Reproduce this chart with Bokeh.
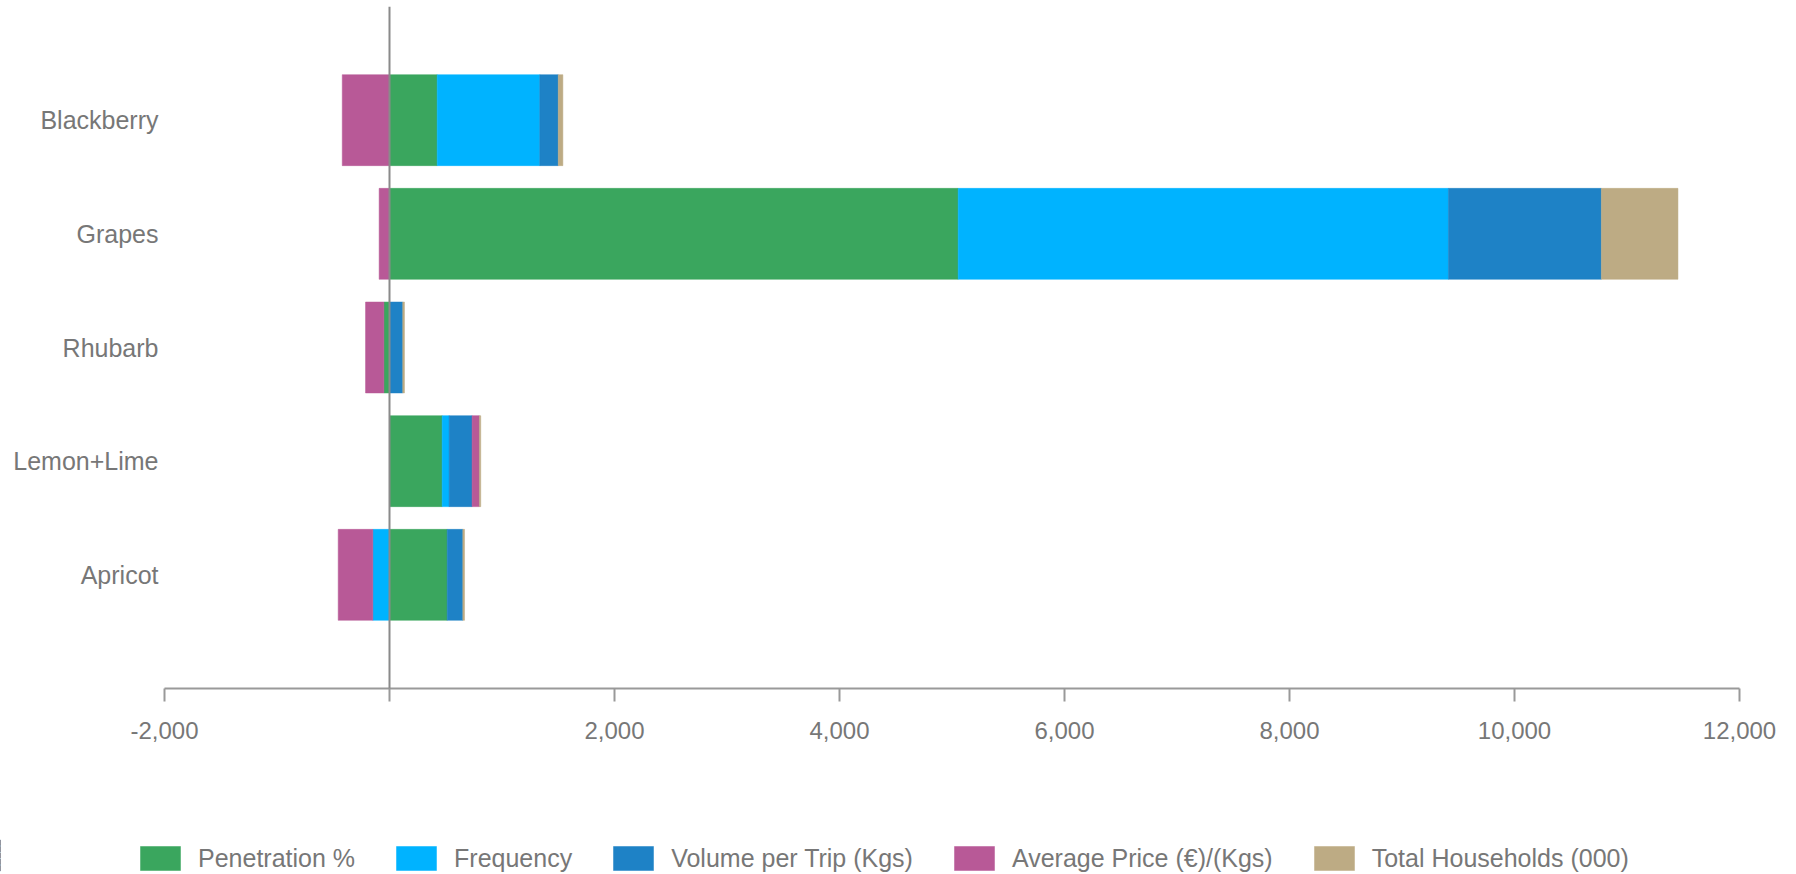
from bokeh.plotting import figure
from bokeh.models import (ColumnDataSource, Range1d, FactorRange, FixedTicker,
                          NumeralTickFormatter, Span, Legend, LegendItem)
from bokeh.embed import file_html
from bokeh.resources import INLINE

categories = ["Blackberry", "Grapes", "Rhubarb", "Lemon+Lime", "Apricot"]
penetration = [424, 5055, -50, 468, 513]
frequency = [912, 4358, 0, 62, -148]
volume_per_trip = [164, 1359, 118, 204, 139]
average_price = [-420, -92, -163, 65, -308]
total_households = [41, 681, 15, 12, 15]

series_names = ["Penetration %", "Frequency", "Volume per Trip (Kgs)",
                "Average Price (€)/(Kgs)", "Total Households (000)"]
series_values = [penetration, frequency, volume_per_trip, average_price, total_households]
series_colors = ["#3aa65e", "#00b3ff", "#1e82c6", "#b85997", "#bdab84"]
x_ticks = [-2000, 0, 2000, 4000, 6000, 8000, 10000, 12000]
x_axis_bounds = (-2000, 12000)

FONT = "Liberation Sans"
TEXT_COLOR = "#777777"

UNITS_PER_PX = (x_axis_bounds[1] - x_axis_bounds[0]) / 1575
y_range = FactorRange(factors=list(reversed(categories)), range_padding=0.5,
                      range_padding_units="absolute")
p = figure(width=1796, height=836, frame_width=1604, frame_height=682,
           output_backend="svg", toolbar_location=None,
           x_range=Range1d(x_axis_bounds[0] - 29 * UNITS_PER_PX, x_axis_bounds[1]),
           y_range=y_range,
           min_border_left=135, min_border_right=57, min_border_top=6,
           min_border_bottom=148)
p.outline_line_color = None
p.xgrid.visible = False
p.ygrid.visible = False

# legend strip: a separate root below the chart, so the legend is not clipped
lp = figure(width=1796, height=38, output_backend="svg", toolbar_location=None,
            x_range=Range1d(60000, 74000), y_range=y_range,
            x_axis_location=None, y_axis_location=None, min_border=0)
lp.outline_line_color = None
lp.xgrid.visible = False
lp.ygrid.visible = False

# stack positive and negative values separately, in series order
pos = [0.0] * len(categories)
neg = [0.0] * len(categories)
items = []
for name, vals, color in zip(series_names, series_values, series_colors):
    left, right = [], []
    for i, v in enumerate(vals):
        if v >= 0:
            left.append(pos[i]); right.append(pos[i] + v); pos[i] += v
        else:
            right.append(neg[i]); left.append(neg[i] + v); neg[i] += v
    src = ColumnDataSource(dict(y=categories, left=left, right=right))
    style = dict(height=0.8, fill_color=color, line_color=color, line_alpha=0.5, line_width=1)
    p.hbar(y="y", left="left", right="right", source=src, **style)
    proxy = lp.hbar(y="y", left="left", right="right", source=src, **style)
    items.append(LegendItem(label=name, renderers=[proxy]))

p.add_layout(Span(location=0, dimension="height", line_color="#8a8a8a", line_width=2))

xa = p.xaxis[0]
xa.bounds = x_axis_bounds
xa.ticker = FixedTicker(ticks=x_ticks)
xa.formatter = NumeralTickFormatter(format="0,0")
xa.major_label_overrides = {0: ""}
xa.axis_line_color = "#999999"
xa.axis_line_width = 2
xa.major_tick_line_color = "#999999"
xa.major_tick_line_width = 2
xa.major_tick_out = 13
xa.major_tick_in = 0
xa.minor_tick_line_color = None
xa.major_label_standoff = 20
xa.major_label_text_font = FONT
xa.major_label_text_font_size = "24px"
xa.major_label_text_color = TEXT_COLOR

ya = p.yaxis[0]
ya.axis_line_color = None
ya.major_tick_line_color = None
ya.minor_tick_line_color = None
ya.major_label_standoff = -29
ya.major_label_text_font = FONT
ya.major_label_text_font_size = "25px"
ya.major_label_text_color = TEXT_COLOR

legend = Legend(items=items, orientation="horizontal", location=(135, 1),
                glyph_width=50, glyph_height=30, label_standoff=13, spacing=36,
                padding=0, margin=0, border_line_color=None,
                background_fill_alpha=0,
                label_text_font=FONT, label_text_font_size="25px",
                label_text_color=TEXT_COLOR)
lp.add_layout(legend, "center")

open("out.html", "w").write(file_html([p, lp], INLINE))
